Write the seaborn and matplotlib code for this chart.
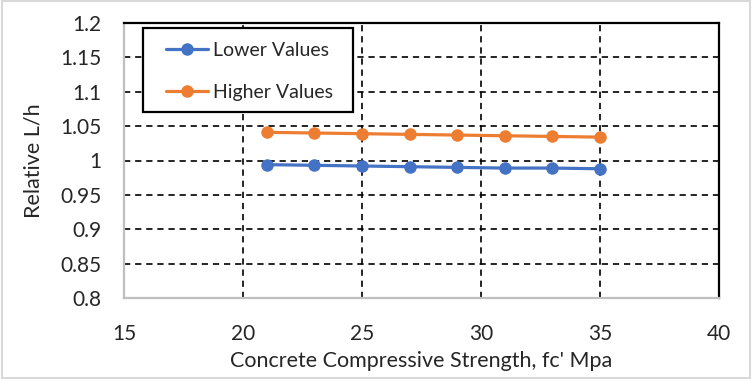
import pandas as pd
import numpy as np
import matplotlib.pyplot as plt
import seaborn as sns

# Data
fc = [21, 23, 25, 27, 29, 31, 33, 35]
lower_values = [0.994, 0.993, 0.992, 0.991, 0.990, 0.989, 0.989, 0.988]
higher_values = [1.041, 1.040, 1.039, 1.038, 1.037, 1.036, 1.035, 1.034]
series_names = ['Lower Values', 'Higher Values']
x_ticks = [15, 20, 25, 30, 35, 40]
y_ticks = [0.8, 0.85, 0.9, 0.95, 1.0, 1.05, 1.1, 1.15, 1.2]
y_tick_labels = ['0.8', '0.85', '0.9', '0.95', '1', '1.05', '1.1', '1.15', '1.2']

df = pd.DataFrame({
    'fc': fc * 2,
    'value': lower_values + higher_values,
    'series': [series_names[0]] * len(fc) + [series_names[1]] * len(fc),
})

sns.set_style('white')
plt.rcParams['font.family'] = ['Lato', 'DejaVu Sans']
plt.rcParams['lines.scale_dashes'] = False

fig = plt.figure(figsize=(7.52, 3.79), dpi=100)
ax = fig.add_axes([124 / 752, 1 - 298 / 379, (719 - 124) / 752, (298 - 23) / 379])

sns.lineplot(data=df, x='fc', y='value', hue='series', marker='o',
             palette={'Lower Values': '#4472C4', 'Higher Values': '#ED7D31'},
             linewidth=2.3, markersize=9, markeredgewidth=0, ax=ax)

ax.set_xlim(15, 40)
ax.set_ylim(0.8, 1.2)
ax.set_xticks(x_ticks)
ax.set_yticks(y_ticks)
ax.set_yticklabels(y_tick_labels)
ax.tick_params(axis='both', length=0, labelsize=15, colors='#262626')
ax.tick_params(axis='y', pad=16)
ax.tick_params(axis='x', pad=19)

ax.set_axisbelow(True)
ax.grid(True, color='black', linestyle=(0, (4.5, 3.5)), linewidth=1.2)

for s in ['left', 'bottom']:
    ax.spines[s].set_color('#bfbfbf')
    ax.spines[s].set_linewidth(1.6)
for s in ['top', 'right']:
    ax.spines[s].set_color('black')
    ax.spines[s].set_linewidth(1.6)

ax.set_xlabel("Concrete Compressive Strength, fc' Mpa", fontsize=15.5, color='#262626', labelpad=5)
ax.set_ylabel('Relative L/h', fontsize=15.5, color='#262626', labelpad=12)

# legend box drawn separately (Excel-style padding)
ax.add_patch(plt.Rectangle((19 / 595, 1 - 89 / 275), 209.5 / 595, 84.3 / 275,
                           transform=ax.transAxes, facecolor='white', edgecolor='black',
                           linewidth=1.6, zorder=4, clip_on=False))
handles, labels = ax.get_legend_handles_labels()
leg = ax.legend(handles, labels, loc='upper left', bbox_to_anchor=(42 / 595, 1 - 19 / 275),
                frameon=False, fontsize=14, labelspacing=1.27, handlelength=2.15,
                borderpad=0, borderaxespad=0, handletextpad=0.25)
for t in leg.get_texts():
    t.set_color('#262626')

# light chart border like the original
fig.patches.append(plt.Rectangle((0.002, 0.003), 0.996, 0.994, transform=fig.transFigure,
                                 fill=False, edgecolor='#d9d9d9', linewidth=1.5))

plt.savefig('out.png', dpi=100)
